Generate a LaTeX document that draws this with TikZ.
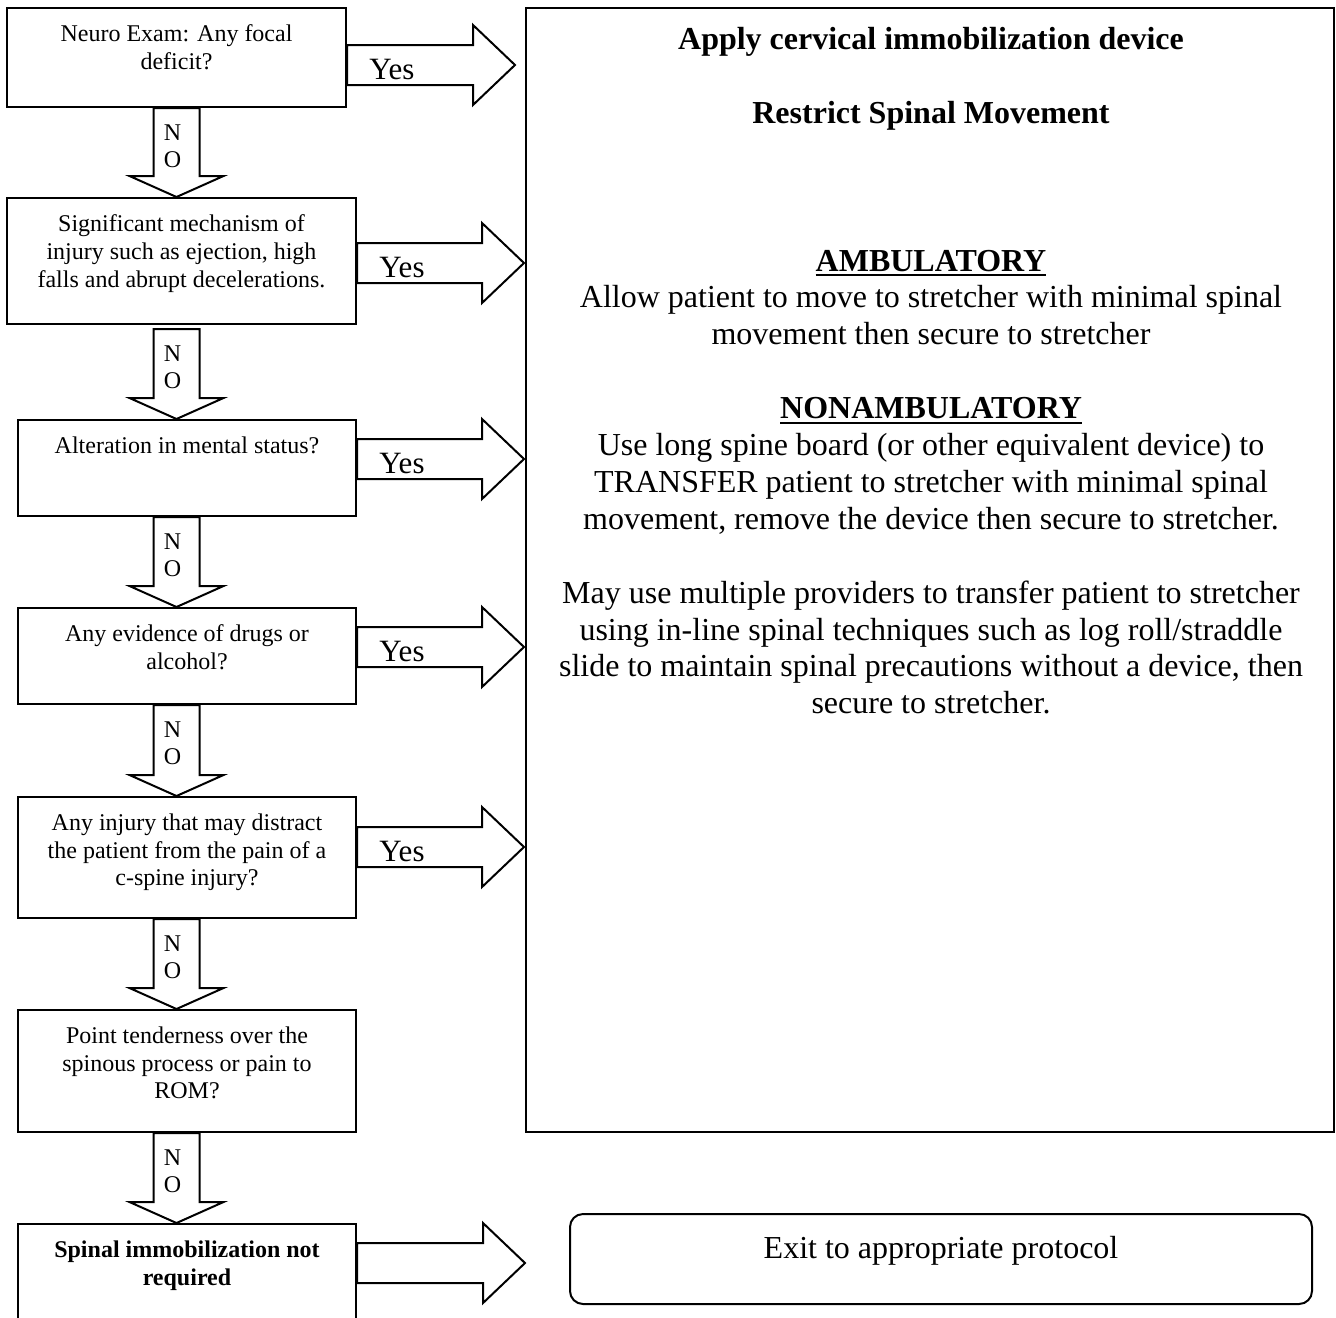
\documentclass[tikz,border=0pt]{standalone}
\usepackage{fontspec}
\setmainfont{Liberation Serif}
\usetikzlibrary{calc}
\newcommand\ulx[1]{\setbox0\hbox{#1}\rlap{\rule[-2.6pt]{\wd0}{0.9pt}}\box0}
\newcommand\rightarr[2]{%
  \draw[blk] let \p1=(#1), \p2=(#2) in
    (\x1,\y1+10pt) -- (\x2-21pt,\y1+10pt) -- (\x2-21pt,\y1+20pt) -- (\x2,\y1)
    -- (\x2-21pt,\y1-20pt) -- (\x2-21pt,\y1-10pt) -- (\x1,\y1-10pt) -- cycle;}
\newcommand\downarr[2]{%
  \draw[blk] let \p1=(#1), \p2=(#2) in
    (\x1-11.5pt,\y1) -- (\x1-11.5pt,\y2+10.5pt) -- (\x1-23.5pt,\y2+10.5pt) -- (\x1,\y2)
    -- (\x1+23.5pt,\y2+10.5pt) -- (\x1+11.5pt,\y2+10.5pt) -- (\x1+11.5pt,\y1) -- cycle;}
\begin{document}
\begin{tikzpicture}[x=0.5pt,y=-0.5pt,
  qbox/.style={draw, line width=1pt, rectangle, inner sep=0pt, anchor=north west},
  qtext/.style={anchor=north, align=center, inner sep=0pt, font=\fontsize{12}{13.8}\selectfont},
  blk/.style={draw, line width=1pt, fill=white, line join=miter},
  yeslbl/.style={anchor=base, inner sep=0pt, font=\fontsize{15.5}{17}\selectfont},
  nolbl/.style={anchor=north, align=center, inner sep=0pt, font=\fontsize{12}{13.6}\selectfont},
]
\useasboundingbox (0,0) rectangle (1336,1317);
\clip (0,0) rectangle (1336,1317);

% question boxes
\node[qbox, minimum width=169.5pt, minimum height=49.5pt] (b1) at (6,7) {};
\node[qbox, minimum width=174.5pt, minimum height=63pt] (b2) at (6,197) {};
\node[qbox, minimum width=169pt, minimum height=48pt] (b3) at (17,419) {};
\node[qbox, minimum width=169pt, minimum height=48pt] (b4) at (17,607) {};
\node[qbox, minimum width=169pt, minimum height=60.5pt] (b5) at (17,796) {};
\node[qbox, minimum width=169pt, minimum height=61pt] (b6) at (17,1009) {};
\node[qbox, minimum width=169pt, minimum height=61pt] (b7) at (17,1223) {};

% big action box and exit box
\node[qbox, minimum width=404pt, minimum height=562pt] (big) at (525,7) {};
\node[qbox, rounded corners=6.5pt, minimum width=371pt, minimum height=45pt,
      text height=11pt, text depth=12pt, font=\fontsize{16}{18.3}\selectfont] (exit) at (569,1213)
      {Exit to appropriate protocol};

% box texts
\node[qtext] (t1) at ($(b1.north)+(0,17.5)$) {Neuro Exam: Any focal\\deficit?};
\node[qtext] (t2) at ($(b2.north)+(0,17.5)$) {Significant mechanism of\\injury such as ejection, high\\falls and abrupt decelerations.};
\node[qtext] (t3) at ($(b3.north)+(0,17.5)$) {Alteration in mental status?};
\node[qtext] (t4) at ($(b4.north)+(0,17.5)$) {Any evidence of drugs or\\alcohol?};
\node[qtext] (t5) at ($(b5.north)+(0,17.5)$) {Any injury that may distract\\the patient from the pain of a\\c-spine injury?};
\node[qtext] (t6) at ($(b6.north)+(0,17.5)$) {Point tenderness over the\\spinous process or pain to\\ROM?};
\node[qtext, font=\fontsize{12}{13.8}\selectfont\bfseries] (t7) at ($(b7.north)+(0,17.5)$) {Spinal immobilization not\\required};

% big box text
\node[anchor=north, align=center, inner sep=0pt, font=\fontsize{16}{18.45}\selectfont] (rt) at ($(big.north)+(1,20)$) {%
\textbf{Apply cervical immobilization device}\\
\\
\textbf{Restrict Spinal Movement}\\
\\
\\
\\
\ulx{\textbf{AMBULATORY}}\\
Allow patient to move to stretcher with minimal spinal\\
movement then secure to stretcher\\
\\
\ulx{\textbf{NONAMBULATORY}}\\
Use long spine board (or other equivalent device) to\\
TRANSFER patient to stretcher with minimal spinal\\
movement, remove the device then secure to stretcher.\\
\\
May use multiple providers to transfer patient to stretcher\\
using in-line spinal techniques such as log roll/straddle\\
slide to maintain spinal precautions without a device, then\\
secure to stretcher.};

% NO arrows
\coordinate (d1s) at (b1.south);
\coordinate (d1e) at (b1.south |- b2.north);
\coordinate (d2s) at ($(b1.south |- b2.south)+(0,4)$);
\coordinate (d2e) at (b1.south |- b3.north);
\coordinate (d3s) at (b1.south |- b3.south);
\coordinate (d3e) at (b1.south |- b4.north);
\coordinate (d4s) at (b1.south |- b4.south);
\coordinate (d4e) at (b1.south |- b5.north);
\coordinate (d5s) at (b1.south |- b5.south);
\coordinate (d5e) at (b1.south |- b6.north);
\coordinate (d6s) at (b1.south |- b6.south);
\coordinate (d6e) at (b1.south |- b7.north);
\downarr{d1s}{d1e}
\downarr{d2s}{d2e}
\downarr{d3s}{d3e}
\downarr{d4s}{d4e}
\downarr{d5s}{d5e}
\downarr{d6s}{d6e}
\foreach \k in {1,...,6}{
  \node[nolbl] (n\k) at ($(d\k s)+(-4,16)$) {N\\O};
}

% Yes arrows
\coordinate (y1s) at (b1.east |- 0,65);
\coordinate (y1e) at ($(big.west |- 0,65)+(-10,0)$);
\coordinate (y2s) at (b2.east |- 0,263);
\coordinate (y2e) at ($(big.west |- 0,263)+(-1,0)$);
\coordinate (y3s) at (b3.east |- 0,459);
\coordinate (y3e) at ($(big.west |- 0,459)+(-1,0)$);
\coordinate (y4s) at (b4.east |- 0,647);
\coordinate (y4e) at ($(big.west |- 0,647)+(-1,0)$);
\coordinate (y5s) at (b5.east |- 0,847);
\coordinate (y5e) at ($(big.west |- 0,847)+(-1,0)$);
\coordinate (y7s) at (b7.east |- 0,1263);
\coordinate (y7e) at (big.west |- 0,1263);
\rightarr{y1s}{y1e}
\rightarr{y2s}{y2e}
\rightarr{y3s}{y3e}
\rightarr{y4s}{y4e}
\rightarr{y5s}{y5e}
\rightarr{y7s}{y7e}
\foreach \k in {1,...,5}{
  \node[yeslbl] (yl\k) at ($(y\k s)+(45,14)$) {Yes};
}
\end{tikzpicture}
\end{document}
